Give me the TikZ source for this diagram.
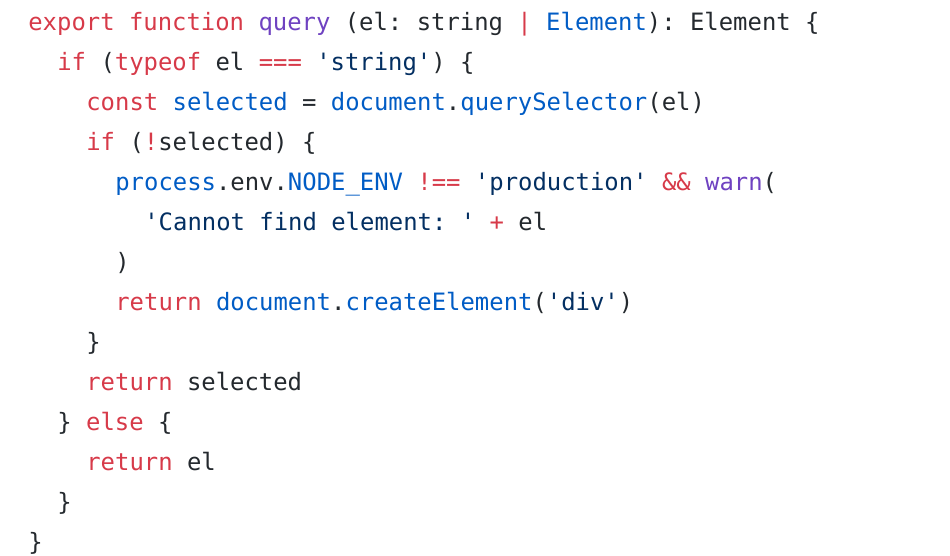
\documentclass[tikz,border=0pt]{standalone}
\usepackage{fontspec}
\setmonofont{DejaVu Sans Mono}
\definecolor{kw}{HTML}{D73A49}
\definecolor{fnc}{HTML}{6F42C1}
\definecolor{idc}{HTML}{005CC5}
\definecolor{txt}{HTML}{24292E}
\definecolor{stc}{HTML}{032F62}
\newcommand\kw[1]{\textcolor{kw}{#1}}
\newcommand\fn[1]{\textcolor{fnc}{#1}}
\newcommand\idn[1]{\textcolor{idc}{#1}}
\newcommand\st[1]{\textcolor{stc}{#1}}
\begin{document}
\begin{tikzpicture}[x=0.02cm,y=-0.02cm,
  code/.style={anchor=base west,inner sep=0,font=\fontsize{13.6}{16}\ttfamily,text=txt}]
\useasboundingbox[fill=white] (0,0) rectangle (950,555);
\def\cw{14.5}
\node[code] (l1) at (28,30) {\kw{export} \kw{function} \fn{query} (el: string \kw{|} \idn{Element}): Element \{};
\node[code] (l2) at (28+2*\cw,70) {\kw{if} (\kw{typeof} el \kw{===} \st{'string'}) \{};
\node[code] (l3) at (28+4*\cw,110) {\kw{const} \idn{selected} = \idn{document}.\idn{querySelector}(el)};
\node[code] (l4) at (28+4*\cw,150) {\kw{if} (\kw{!}selected) \{};
\node[code] (l5) at (28+6*\cw,190) {\idn{process}.env.\idn{NODE\_ENV} \kw{!==} \st{'production'} \kw{\&\&} \fn{warn}(};
\node[code] (l6) at (28+8*\cw,230) {\st{'Cannot find element: '} \kw{+} el};
\node[code] (l7) at (28+6*\cw,270) {)};
\node[code] (l8) at (28+6*\cw,310) {\kw{return} \idn{document}.\idn{createElement}(\st{'div'})};
\node[code] (l9) at (28+4*\cw,350) {\}};
\node[code] (l10) at (28+4*\cw,390) {\kw{return} selected};
\node[code] (l11) at (28+2*\cw,430) {\} \kw{else} \{};
\node[code] (l12) at (28+4*\cw,470) {\kw{return} el};
\node[code] (l13) at (28+2*\cw,510) {\}};
\node[code] (l14) at (28,550) {\}};
\end{tikzpicture}
\end{document}
